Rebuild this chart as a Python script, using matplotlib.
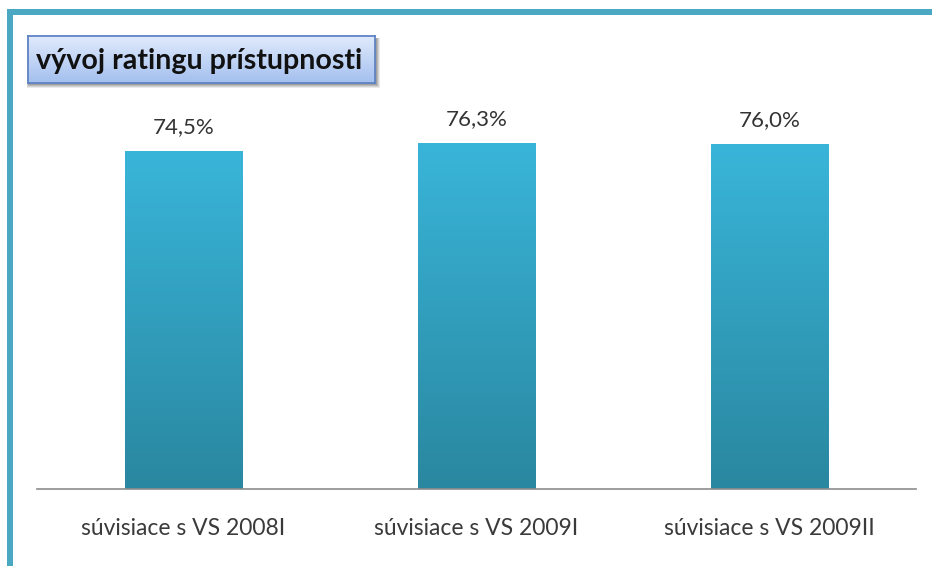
import matplotlib
matplotlib.use("Agg")
import matplotlib.pyplot as plt
import numpy as np
from matplotlib.colors import LinearSegmentedColormap
from matplotlib.patches import Rectangle

categories = ["súvisiace s VS 2008I", "súvisiace s VS 2009I", "súvisiace s VS 2009II"]
values = [74.5, 76.3, 76.0]
value_labels = ["74,5%", "76,3%", "76,0%"]
title = "vývoj ratingu prístupnosti"

W, H = 932, 566
fig = plt.figure(figsize=(W / 100, H / 100), dpi=100)
fig.patch.set_facecolor("white")

FONT = ["Lato", "DejaVu Sans"]

def fx(px):
    return px / W

def fy(py):
    return 1 - py / H

# Main axes
ax = fig.add_axes([fx(37), fy(489), fx(916) - fx(37), fy(81) - fy(489)])
ax.set_xlim(-0.5, len(categories) - 0.5)
ax.set_ylim(0, 90)
for s in ["top", "left", "right"]:
    ax.spines[s].set_visible(False)
ax.spines["bottom"].set_color("#8c8c8c")
ax.spines["bottom"].set_linewidth(1.2)
ax.set_yticks([])
ax.set_xticks(range(len(categories)))
ax.set_xticklabels(categories, fontsize=16.5, color="#3a3a3a", family=FONT)
ax.tick_params(axis="x", length=0, pad=21)

bars = ax.bar(range(len(categories)), values, width=0.4, color="none", edgecolor="none")
cmap = LinearSegmentedColormap.from_list("bar", ["#2a87a0", "#39b5d9"])
grad = np.linspace(0, 1, 256).reshape(-1, 1)
for b in bars:
    x0, y0 = b.get_x(), b.get_y()
    w, h = b.get_width(), b.get_height()
    im = ax.imshow(grad, cmap=cmap, origin="lower", aspect="auto",
                   extent=[x0, x0 + w, y0, y0 + h], zorder=2)
    im.set_clip_path(b)
ax.set_xlim(-0.5, len(categories) - 0.5)
ax.set_ylim(0, 90)

for i, (v, lab) in enumerate(zip(values, value_labels)):
    ax.annotate(lab, (i, v), xytext=(0, 10), textcoords="offset points",
                ha="center", va="bottom", fontsize=16, color="#333333", family=FONT)

# Frame borders (slide frame)
border_c = "#4aa8c2"
fig.add_artist(Rectangle((fx(7), fy(15)), fx(932) - fx(7), fy(9) - fy(15),
                         transform=fig.transFigure, facecolor=border_c, edgecolor="none"))
fig.add_artist(Rectangle((fx(7), 0), fx(13) - fx(7), fy(9),
                         transform=fig.transFigure, facecolor=border_c, edgecolor="none"))

# Title box with soft shadow and gradient
bx0, by0, bx1, by1 = 28, 36, 375, 83
for k, a in [(5, 0.12), (4, 0.15), (3, 0.2), (2, 0.25)]:
    fig.add_artist(Rectangle((fx(bx0 + 1 - k / 2), fy(by1 + k)),
                             fx(bx1 + k) - fx(bx0 + 1 - k / 2), fy(by0 + 2) - fy(by1 + k),
                             transform=fig.transFigure, facecolor="#555555",
                             edgecolor="none", alpha=a, zorder=1))
tax = fig.add_axes([fx(bx0), fy(by1), fx(bx1) - fx(bx0), fy(by0) - fy(by1)])
tax.set_zorder(5)
tcmap = LinearSegmentedColormap.from_list("tb", ["#a4c0ef", "#e0eafc"])
tax.imshow(grad, cmap=tcmap, origin="lower", aspect="auto", extent=[0, 1, 0, 1])
tax.set_xticks([])
tax.set_yticks([])
for s in tax.spines.values():
    s.set_color("#5f84c4")
    s.set_linewidth(1.3)
t = fig.text(fx(36), fy(61), title, fontsize=20.6, fontweight="bold", color="#111111",
             ha="left", va="center", family=FONT)
t.set_zorder(10)

fig.savefig("out.png", dpi=100, facecolor="white")
